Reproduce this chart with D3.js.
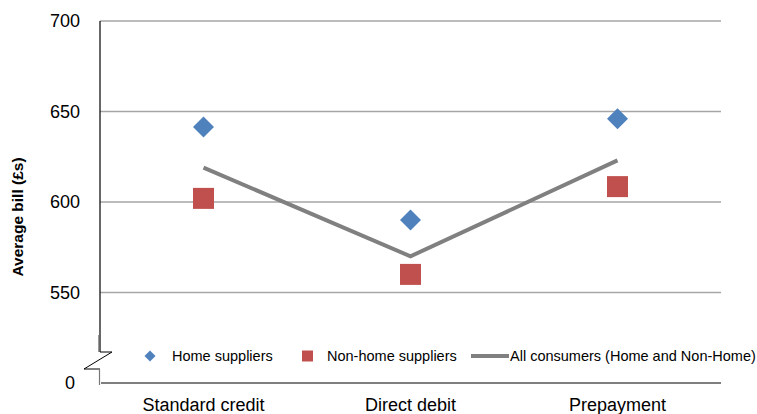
<!DOCTYPE html>
<html><head><meta charset="utf-8">
<script src="https://cdn.jsdelivr.net/npm/d3@7"></script>
<style>body{margin:0;background:#fff}svg{font-family:"Liberation Sans",Arial,sans-serif}</style>
</head><body><svg id="c" width="757" height="414"></svg>
<script>
const categories = ["Standard credit","Direct debit","Prepayment"];
const homeSuppliers = [641.5, 590, 646];
const nonHomeSuppliers = [602, 560, 608.5];
const allConsumers = [619, 570, 623];
const yTicks = [550, 600, 650, 700];
const legendLabels = ["Home suppliers","Non-home suppliers","All consumers (Home and Non-Home)"];

const svg = d3.select("#c");
const pLeft = 100, pRight = 721, pTop = 21, axisBottom = 383;
const x = d3.scaleBand().domain(categories).range([pLeft, pRight]);
const y = d3.scaleLinear().domain([550, 700]).range([292.5, pTop]);
const cx = d => x(d) + x.bandwidth()/2;

// gridlines
svg.append("g").selectAll("line").data(yTicks).join("line")
  .attr("x1", pLeft).attr("x2", pRight).attr("y1", d=>y(d)).attr("y2", d=>y(d))
  .attr("stroke", "#a6a6a6").attr("stroke-width", 1.5);

// y tick labels
svg.append("g").selectAll("text").data(yTicks).join("text")
  .attr("x", 80).attr("y", d=>y(d)).attr("dy","0.35em").attr("text-anchor","end")
  .attr("font-size", 18).attr("fill","#000").text(d=>d);
svg.append("text").attr("x", 75).attr("y", axisBottom).attr("dy","0.35em").attr("text-anchor","end")
  .attr("font-size", 18).text("0");

// y axis with break
svg.append("line").attr("x1", pLeft).attr("x2", pLeft).attr("y1", pTop).attr("y2", 352).attr("stroke","#000").attr("stroke-width",1.2);
svg.append("line").attr("x1", 98.5).attr("x2", 98.5).attr("y1", 335).attr("y2", 352).attr("stroke","#999").attr("stroke-width",1);
svg.append("path").attr("d","M100,352 L112,352 L84,369 L100,369").attr("fill","none").attr("stroke","#000").attr("stroke-width",1);
svg.append("line").attr("x1", 99.5).attr("x2", 99.5).attr("y1", 369).attr("y2", 385).attr("stroke","#777").attr("stroke-width",1.2);

// x axis
svg.append("line").attr("x1", 101).attr("x2", pRight).attr("y1", axisBottom).attr("y2", axisBottom).attr("stroke","#000").attr("stroke-width",1.2);
svg.append("g").selectAll("text").data(categories).join("text")
  .attr("x", d=>cx(d)).attr("y", 410.5).attr("text-anchor","middle")
  .attr("font-size", 18).text(d=>d);

// y title
svg.append("text").attr("transform","translate(23,217) rotate(-90)").attr("text-anchor","middle")
  .attr("font-size", 15.5).attr("font-weight","bold").text("Average bill (£s)");

// line
const line = d3.line().x((d,i)=>cx(categories[i])).y(d=>y(d));
svg.append("path").datum(allConsumers).attr("d", line).attr("fill","none")
  .attr("stroke","#808080").attr("stroke-width",4);

// home diamonds
const dsz = 10.5;
svg.append("g").selectAll("path").data(homeSuppliers).join("path")
  .attr("d",(d,i)=>{const X=cx(categories[i]),Y=y(d);return `M${X},${Y-dsz}L${X+dsz},${Y}L${X},${Y+dsz}L${X-dsz},${Y}Z`;})
  .attr("fill","#4f81bd");

// non-home squares
const ssz = 21;
svg.append("g").selectAll("rect").data(nonHomeSuppliers).join("rect")
  .attr("x",(d,i)=>cx(categories[i])-ssz/2).attr("y",d=>y(d)-ssz/2)
  .attr("width",ssz).attr("height",ssz).attr("fill","#c0504d");

// legend
const ly = 356;
const lg = svg.append("g").attr("font-size",14.5);
lg.append("path").attr("d",`M150,${ly-5.5}L155.5,${ly}L150,${ly+5.5}L144.5,${ly}Z`).attr("fill","#4f81bd");
lg.append("text").attr("x",172).attr("y",ly).attr("dy","0.35em").text(legendLabels[0]);
lg.append("rect").attr("x",302).attr("y",ly-5.5).attr("width",11).attr("height",11).attr("fill","#c0504d");
lg.append("text").attr("x",327).attr("y",ly).attr("dy","0.35em").text(legendLabels[1]);
lg.append("line").attr("x1",471).attr("x2",509).attr("y1",ly).attr("y2",ly).attr("stroke","#808080").attr("stroke-width",4);
lg.append("text").attr("x",510).attr("y",ly).attr("dy","0.35em").text(legendLabels[2]);
</script></body></html>
